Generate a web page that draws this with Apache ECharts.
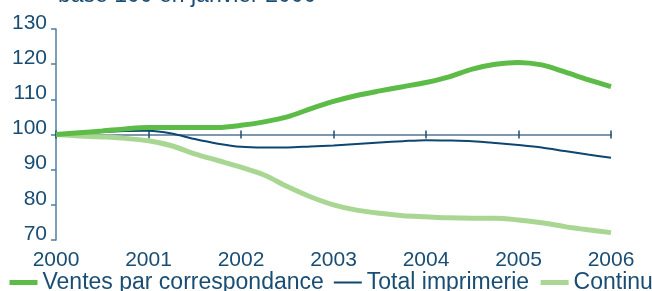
<!DOCTYPE html>
<html>
<head>
<meta charset="utf-8">
<script src="https://cdn.jsdelivr.net/npm/echarts@6/dist/echarts.min.js"></script>
<style>
  html, body { margin: 0; padding: 0; background: #fff; }
  #chart { width: 652px; height: 291px; }
</style>
</head>
<body>
<div id="chart"></div>
<script>
// quarterly points, Jan 2000 -> Jan 2006
const quarters = ['2000', '', '', '', '2001', '', '', '', '2002', '', '', '', '2003', '', '', '',
  '2004', '', '', '', '2005', '', '', '', '2006']
const ventes = [100, 100.5, 101, 101.6, 102, 102, 102, 102, 102.6, 103.6, 105, 107.3, 109.4,
  111.1, 112.4, 113.6, 114.8, 116.4, 118.6, 120, 120.5, 119.8, 117.8, 115.6, 113.6]
const totalImp = [100, 100.4, 100.7, 101, 101.1, 100.3, 98.7, 97.4, 96.5, 96.3, 96.3, 96.6, 96.9,
  97.3, 97.7, 98.1, 98.4, 98.3, 98.1, 97.6, 97, 96.3, 95.3, 94.3, 93.4]
const continu = [100, 99.6, 99.3, 98.9, 98.2, 96.8, 94.5, 92.6, 90.7, 88.5, 85.2, 82.3, 80,
  78.5, 77.6, 76.9, 76.6, 76.3, 76.2, 76.2, 75.7, 74.9, 73.8, 72.9, 72.1]
const yTicks = [70, 130, 10]

const blue = '#194d73'
const font = 'Liberation Sans, Arial, sans-serif'
const colors = { ventes: '#5dbb47', total: '#0d4670', continu: '#a9d793' }

const chart = echarts.init(document.getElementById('chart'))

chart.setOption({
  animation: false,
  textStyle: { fontFamily: font },
  title: {
    text: 'base 100 en janvier 2000',
    left: 58,
    top: -16,
    padding: 0,
    textStyle: { color: blue, fontSize: 23, fontWeight: 'normal', fontFamily: font },
  },
  grid: { left: 56, right: 41, top: 29, bottom: 51 },
  legend: {
    left: 7,
    top: 271,
    width: 900,
    padding: 0,
    itemWidth: 28,
    itemHeight: 14,
    itemGap: 9,
    itemStyle: { opacity: 0 },
    textStyle: { color: blue, fontSize: 23, fontFamily: font },
    data: [
      { name: 'Ventes par correspondance', lineStyle: { width: 5, color: colors.ventes } },
      { name: 'Total imprimerie', lineStyle: { width: 2, color: colors.total } },
      { name: 'Continu', lineStyle: { width: 5, color: colors.continu } },
    ],
  },
  xAxis: [
    {
      type: 'category',
      data: quarters,
      boundaryGap: false,
      axisLine: { show: false },
      axisTick: { show: false },
      axisLabel: { interval: 3, color: blue, fontSize: 21, margin: 10 },
    },
    {
      // base 100 line with ticks
      type: 'category',
      data: quarters,
      boundaryGap: false,
      position: 'bottom',
      offset: -105.5,
      axisLine: { show: true, lineStyle: { color: '#7f98ad', width: 2 } },
      axisTick: { show: true, interval: 3, length: 4, lineStyle: { color: '#1f4e70', width: 1.5 } },
      axisLabel: { show: false },
    },
    {
      type: 'category',
      data: quarters,
      boundaryGap: false,
      position: 'bottom',
      offset: -105.5,
      axisLine: { show: false },
      axisTick: { show: true, inside: true, interval: 3, length: 4, lineStyle: { color: '#1f4e70', width: 1.5 } },
      axisLabel: { show: false },
    },
  ],
  yAxis: {
    type: 'value',
    min: yTicks[0],
    max: yTicks[1],
    interval: yTicks[2],
    splitLine: { show: false },
    axisLine: { show: true, lineStyle: { color: '#4f7ea3', width: 1.5 } },
    axisTick: { show: true, length: 5, lineStyle: { color: '#4f7ea3', width: 1.5 } },
    axisLabel: { color: blue, fontSize: 21, margin: 9, verticalAlign: 'bottom', lineHeight: 12 },
  },
  series: [
    {
      name: 'Continu',
      type: 'line',
      data: continu,
      smooth: 0.3,
      symbol: 'none',
      z: 2,
      itemStyle: { color: colors.continu },
      lineStyle: { color: colors.continu, width: 5 },
    },
    {
      name: 'Total imprimerie',
      type: 'line',
      data: totalImp,
      smooth: 0.3,
      symbol: 'none',
      z: 3,
      itemStyle: { color: colors.total },
      lineStyle: { color: colors.total, width: 2 },
    },
    {
      name: 'Ventes par correspondance',
      type: 'line',
      data: ventes,
      smooth: 0.3,
      symbol: 'none',
      z: 4,
      itemStyle: { color: colors.ventes },
      lineStyle: { color: colors.ventes, width: 5 },
    },
  ],
})
</script>
</body>
</html>
